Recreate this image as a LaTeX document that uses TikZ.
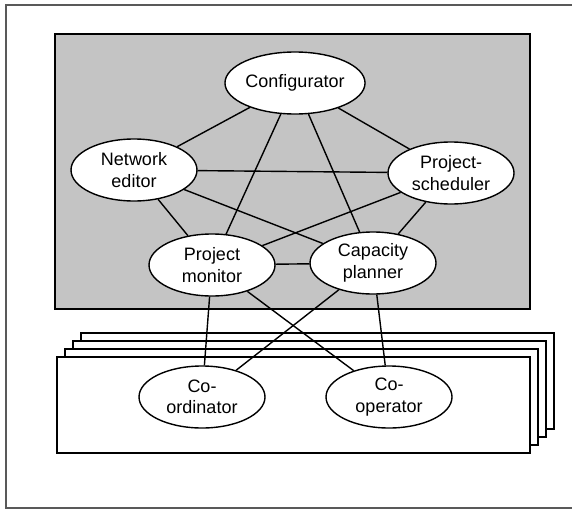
\documentclass[tikz,border=0pt]{standalone}
\usepackage{fontspec}
\setmainfont{Liberation Sans}
\usetikzlibrary{shapes.geometric}

\definecolor{panelgray}{gray}{0.77}
\definecolor{framegray}{gray}{0.35}

\tikzset{
  role/.style={ellipse, draw, line width=1.4pt, fill=white, inner sep=0pt,
    minimum width=126pt, minimum height=62pt, align=center,
    font=\fontsize{18}{21.5}\selectfont},
  link/.style={line width=1.4pt},
  sheet/.style={draw, line width=1.6pt, fill=white}
}

\begin{document}
\begin{tikzpicture}[x=1pt, y=-1pt]
  \useasboundingbox (0,0) rectangle (572,509);

  \draw[framegray, line width=1.6pt] (572,5) -- (6,5) -- (6,508) -- (572,508);

  \draw[fill=panelgray, line width=1.8pt] (55,34) rectangle (530,309);

  \foreach \k in {3,2,1,0}{
    \draw[sheet] ({57+8*\k},{357-8*\k}) rectangle ({530+8*\k},{453-8*\k});
  }

  \node[role] (conf)  at (295,83)  {Configurator};
  \node[role] (neted) at (134,170) {Network\\editor};
  \node[role] (sched) at (451,173) {Project-\\scheduler};
  \node[role] (mon)   at (212,265) {Project\\monitor};
  \node[role] (cap)   at (373,263) {Capacity\\planner};
  \node[role] (coord) at (202,397) {Co-\\ordinator};
  \node[role] (coop)  at (389,397) {Co-\\operator};

  \foreach \a/\b in {conf/neted, conf/mon, conf/cap, conf/sched,
                     neted/sched, neted/mon, neted/cap,
                     sched/mon, sched/cap, mon/cap,
                     mon/coord, mon/coop, cap/coord, cap/coop}{
    \draw[link] (\a) -- (\b);
  }
\end{tikzpicture}
\end{document}
